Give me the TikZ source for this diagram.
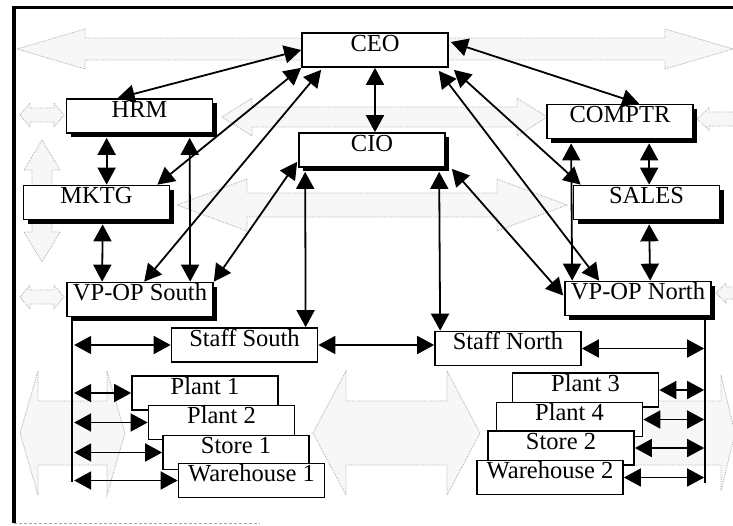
\documentclass[tikz,border=0pt]{standalone}
\usepackage{fontspec}
\setmainfont{Liberation Serif}
\usetikzlibrary{arrows.meta,calc,shadows}
% horizontal background double arrow: x1, x2, yc, shaft half, head half, head length
\newcommand\bgdbl[6]{\draw[bgarrow] (#1,#3) -- (#1+#6,#3-#5) -- (#1+#6,#3-#4) -- (#2-#6,#3-#4) -- (#2-#6,#3-#5) -- (#2,#3) -- (#2-#6,#3+#5) -- (#2-#6,#3+#4) -- (#1+#6,#3+#4) -- (#1+#6,#3+#5) -- cycle;}
% vertical background double arrow: xc, y1, y2, shaft half, head half, head length
\newcommand\bgvdbl[6]{\draw[bgarrow] (#1,#2) -- (#1+#5,#2+#6) -- (#1+#4,#2+#6) -- (#1+#4,#3-#6) -- (#1+#5,#3-#6) -- (#1,#3) -- (#1-#5,#3-#6) -- (#1-#4,#3-#6) -- (#1-#4,#2+#6) -- (#1-#5,#2+#6) -- cycle;}
\begin{document}
\begin{tikzpicture}[x=1pt,y=-1pt,
  bgarrow/.style={draw=gray!65, densely dotted, line width=0.8pt, fill=gray!6},
  box/.style={draw, line width=1.7pt, fill=white, minimum width=146pt, minimum height=34pt,
    inner sep=0pt, text height=18pt, text depth=16pt, font=\fontsize{24.5}{26}\selectfont},
  sbox/.style={box, drop shadow={shadow xshift=4pt, shadow yshift=-4pt, fill=black, opacity=1}},
  dbl/.style={{Triangle[length=17pt,width=18pt]}-{Triangle[length=17pt,width=18pt]}, line width=1.8pt},
  bus/.style={line width=1.8pt},
  frame/.style={line width=3.5pt}]
\useasboundingbox (0,0) rectangle (733,525);

% background arrows
\bgdbl{17}{733}{49}{11}{20}{68}
\bgdbl{20}{64}{115}{7}{12}{10}
\bgdbl{222}{547}{117}{10}{19}{30}
\bgdbl{697}{760}{119}{7}{11}{12}
\bgdbl{177}{567}{205}{12}{26}{70}
\bgvdbl{42}{140}{262}{10}{18}{30}
\bgdbl{20}{64}{297}{7}{12}{10}
\bgdbl{716}{760}{293}{6}{10}{10}
\bgdbl{20}{125}{433}{32}{62}{18}
\bgdbl{313}{480}{433}{32}{62}{33}
\bgdbl{600}{735}{433}{32}{58}{14}

% frame
\draw[frame] (14,523) -- (14,7.5) -- (733,7.5);
\draw[gray!70, densely dashed, line width=0.8pt] (14,523) -- (260,523);

% boxes
\node[box]  (CEO)    at (375,50)      {CEO};
\node[sbox] (HRM)    at (139.5,116)   {HRM};
\node[sbox] (MKTG)   at (96.5,202.5)  {MKTG};
\node[sbox] (CIO)    at (372,150)     {CIO};
\node[sbox] (COMPTR) at (620,121.5)   {COMPTR};
\node[sbox] (SALES)  at (646.5,202.5) {SALES};
\node[sbox] (VPS)    at (140,299.5)   {VP-OP South};
\node[sbox] (VPN)    at (638,298.5)   {VP-OP North};
\node[box]  (StaffS) at (244.5,345)   {Staff South};
\node[box]  (StaffN) at (508,348.5)   {Staff North};
\node[box]  (P1)     at (205,393)     {Plant 1};
\node[box]  (P2)     at (221.5,422.5) {Plant 2};
\node[box]  (S1)     at (236,452.5)   {Store 1};
\node[box]  (W1)     at (251.5,480.5) {Warehouse 1};
\node[box]  (P3)     at (585.5,390)   {Plant 3};
\node[box]  (P4)     at (569.5,419.5) {Plant 4};
\node[box]  (S2)     at (561,448)     {Store 2};
\node[box]  (W2)     at (550,477.5)   {Warehouse 2};

% upper connectors
\draw[dbl] (CEO.west) -- ($(HRM.north west)+(52,0)$);
\draw[dbl] (CEO.south west) -- ($(MKTG.north east)+(-13,0)$);
\draw[dbl] ($(CEO.south west)+(20,2)$) -- ($(VPS.north west)+(78,0)$);
\draw[dbl] ($(HRM.south west)+(41,4)$) -- ($(MKTG.north west)+(84,0)$);
\draw[dbl] ($(MKTG.south west)+(80,4)$) -- ($(VPS.north west)+(36,0)$);
\draw[dbl] ($(HRM.south west)+(124,4)$) -- ($(VPS.north west)+(124,0)$);
\draw[dbl] ($(CIO.south west)+(-1,-6)$) -- (VPS.north east);
\draw[dbl] (CEO.south) -- (CEO.south |- CIO.north);
\draw[dbl] ($(CIO.south west)+(7,4)$) -- ($(StaffS.north west)+(135,0)$);
\draw[dbl] ($(CIO.south west)+(141,4)$) -- ($(StaffN.north west)+(6,0)$);
\draw[dbl] ($(CIO.south east)+(6,1)$) -- ($(VPN.west)+(-1,-3)$);
\draw[dbl] ($(CEO.east)+(2,-8)$) -- ($(COMPTR.north west)+(93,0)$);
\draw[dbl] ($(CEO.south east)+(5,2)$) -- ($(SALES.north west)+(8,0)$);
\draw[dbl] ($(CEO.south east)+(-10,3)$) -- ($(VPN.north west)+(35,0)$);
\draw[dbl] ($(COMPTR.south west)+(25,4)$) -- ($(VPN.north west)+(8,0)$);
\draw[dbl] ($(COMPTR.south west)+(103,4)$) -- ($(SALES.north west)+(76.5,0)$);
\draw[dbl] ($(SALES.south west)+(76.5,4)$) -- ($(VPN.north west)+(86,0)$);
\draw[dbl] (StaffS.east) -- (StaffN.west |- StaffS.east);

% buses
\coordinate (bl) at ($(VPS.south west)+(6,0)$);
\coordinate (blt) at ($(bl)+(2,0)$);
\draw[bus] (bl) -- ++(0,165);
\coordinate (br) at ($(VPN.south west)+(141,0)$);
\coordinate (brt) at ($(br)+(-1,0)$);
\draw[bus] (br) -- ++(0,167);

\draw[dbl] (StaffS.west -| blt) -- (StaffS.west);
\draw[dbl] (P1.west -| blt) -- (P1.west);
\draw[dbl] (P2.west -| blt) -- (P2.west);
\draw[dbl] (S1.west -| blt) -- (S1.west);
\draw[dbl] (W1.west -| blt) -- (W1.west);

\draw[dbl] (StaffN.east) -- (StaffN.east -| brt);
\draw[dbl] (P3.east) -- (P3.east -| brt);
\draw[dbl] (P4.east) -- (P4.east -| brt);
\draw[dbl] (S2.east) -- (S2.east -| brt);
\draw[dbl] (W2.east) -- (W2.east -| brt);
\end{tikzpicture}
\end{document}
